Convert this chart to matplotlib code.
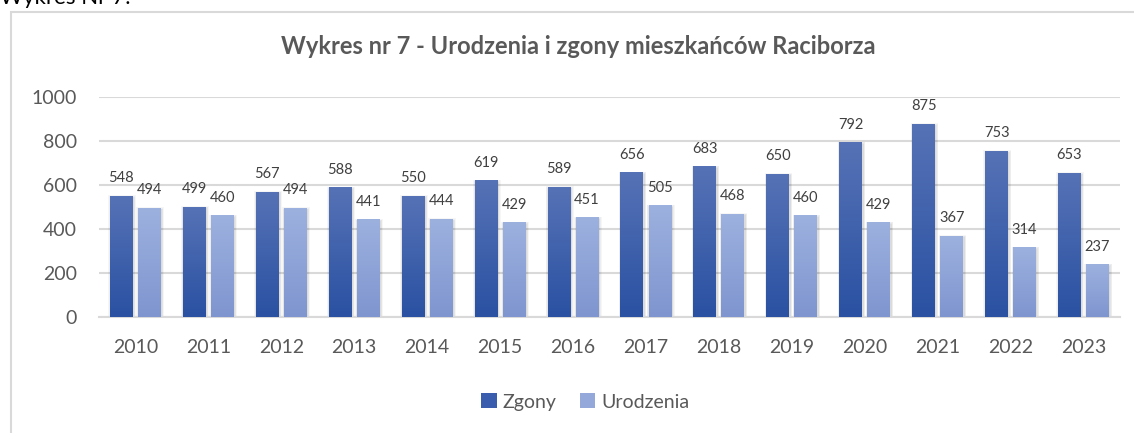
import numpy as np
import matplotlib
matplotlib.use("Agg")
from matplotlib import pyplot as plt
from matplotlib.patches import Rectangle, Patch

plt.rcParams['font.family'] = ['Lato', 'DejaVu Sans']

lata = ['2010', '2011', '2012', '2013', '2014', '2015', '2016',
        '2017', '2018', '2019', '2020', '2021', '2022', '2023']
zgony = [548, 499, 567, 588, 550, 619, 589, 656, 683, 650, 792, 875, 753, 653]
urodzenia = [494, 460, 494, 441, 444, 429, 451, 505, 468, 460, 429, 367, 314, 237]

tytul = "Wykres nr 7 - Urodzenia i zgony mieszkańców Raciborza"

# kolory: (dol, gora) gradientu
kolor_zgony = ("#2A51A2", "#5672B6")
kolor_urodzenia = ("#7F95CF", "#9DB1DF")
szary_tekst = "#595959"

fig = plt.figure(figsize=(11.34, 4.33), dpi=100)
W, H = 1134, 433

# ramka wykresu
fig.patches.append(Rectangle((11 / W, 0 - 0.01), 1.1, (H - 12) / H + 0.01,
                             transform=fig.transFigure, fill=False,
                             edgecolor="#D9D9D9", linewidth=1.5))
fig.text(0.0, 1 - 4 / H, "Wykres Nr 7:", fontsize=16, color="black",
         va="baseline", ha="left")

ax = fig.add_axes([99 / W, 116 / H, (1120 - 99) / W, 220 / H])
ax.set_xlim(-0.5, len(lata) - 0.5)
ax.set_ylim(0, 1000)

szer = 0.315
odstep = 0.07
x = np.arange(len(lata))


def slupek(ax, xc, h, kolory):
    x0 = xc - szer / 2
    # cien (miekki, lekko w prawo)
    for i in range(4):
        d = 0.008 * (i + 1)
        ax.add_patch(Rectangle((x0 - d + 0.01, 0), szer + 2 * d, h - 4 + 3 * i,
                               facecolor="black", alpha=0.035, edgecolor="none",
                               zorder=2))
    grad = np.linspace(0, 1, 100).reshape(-1, 1)
    c0 = np.array(matplotlib.colors.to_rgb(kolory[0]))
    c1 = np.array(matplotlib.colors.to_rgb(kolory[1]))
    img = c0 + grad[..., None] * (c1 - c0)
    ax.imshow(img, extent=[x0, x0 + szer, 0, h], origin="lower",
              aspect="auto", zorder=3, interpolation="bilinear")


for i in range(len(lata)):
    xz = x[i] - odstep / 2 - szer / 2
    xu = x[i] + odstep / 2 + szer / 2
    slupek(ax, xz, zgony[i], kolor_zgony)
    slupek(ax, xu, urodzenia[i], kolor_urodzenia)
    ax.annotate(str(zgony[i]), (xz, zgony[i]), xytext=(0, 8),
                textcoords="offset points", ha="center", va="bottom",
                fontsize=10.5, color="#404040")
    ax.annotate(str(urodzenia[i]), (xu, urodzenia[i]), xytext=(0, 8),
                textcoords="offset points", ha="center", va="bottom",
                fontsize=10.5, color="#404040")

ax.set_xlim(-0.5, len(lata) - 0.5)
ax.set_ylim(0, 1000)
ax.set_yticks(range(0, 1001, 200))
ax.set_xticks(x)
ax.set_xticklabels(lata)
ax.yaxis.grid(True, color="#D9D9D9", linewidth=1.5, zorder=0)
ax.set_axisbelow(True)
for s in ["top", "right", "left"]:
    ax.spines[s].set_visible(False)
ax.spines["bottom"].set_color("#D9D9D9")
ax.spines["bottom"].set_linewidth(1.5)
ax.tick_params(axis="both", length=0, labelsize=14, colors=szary_tekst)
ax.tick_params(axis="y", pad=16)
ax.tick_params(axis="x", pad=16)

fig.text(578 / W, 1 - 47 / H, tytul, fontsize=17, fontweight="bold",
         color=szary_tekst, ha="center", va="center")

uchwyty = [Patch(facecolor="#3A5DAE", label="Zgony"),
           Patch(facecolor="#94A8DA", label="Urodzenia")]
fig.legend(handles=uchwyty, loc="center", bbox_to_anchor=(585 / W, 1 - 402 / H),
           ncol=2, frameon=False, fontsize=14, labelcolor=szary_tekst,
           handlelength=0.8, handleheight=0.8, handletextpad=0.3,
           columnspacing=1.2)

plt.savefig("out.png", dpi=100)
plt.close()
